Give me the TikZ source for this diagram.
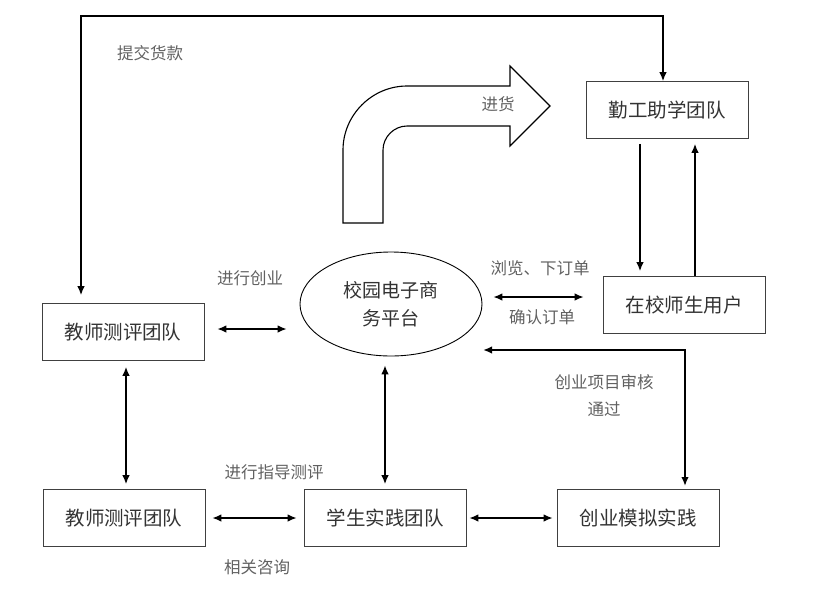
\documentclass[tikz,border=0pt]{standalone}
\usepackage{fontspec}
\newfontfamily\cjk{Noto Sans CJK SC}
\usetikzlibrary{arrows.meta,shapes.geometric}

\tikzset{
    box/.style={draw=black!75, line width=0.9pt, minimum width=162pt, minimum height=57pt,
        inner sep=0pt, text=black!80, font=\cjk\fontsize{19.5}{24}\selectfont},
    tag/.style={text=black!62, inner sep=0pt, align=center, font=\cjk\fontsize{16.5}{27}\selectfont},
    link/.style={line width=1.2pt}
}

\begin{document}
\begin{tikzpicture}[x=1pt, y=-1pt, >={Latex[length=9pt,width=7.5pt]}]
        \useasboundingbox (0,0) rectangle (823,590);

        % Boxes
        \node[box] (qgzx) at (667,110) {勤工助学团队};
        \node[box] (user) at (684,305) {在校师生用户};
        \node[box] (teachA) at (123,332) {教师测评团队};
        \node[box] (teachB) at (124,518) {教师测评团队};
        \node[box] (student) at (385,518) {学生实践团队};
        \node[box] (sim) at (638,518) {创业模拟实践};
        \node[ellipse, draw=black, line width=0.9pt, minimum width=182pt, minimum height=104pt,
            inner sep=0pt, align=center, text=black!80, font=\cjk\fontsize{19}{28}\selectfont]
            (platform) at (391,304) {校园电子商\\务平台};

        % Bent arrow
        \draw[line width=1.1pt] (343,223) -- (343,150) .. controls (343,115) and (372,86) .. (407,86)
            -- (510,86) -- (510,66) -- (550,106) -- (510,146) -- (510,126) -- (407,126)
            .. controls (394,126) and (383,137) .. (383,150) -- (383,223) -- cycle;

        % Arrows
        \coordinate (topL) at (81,16);
        \coordinate (topR) at (663,16);
        \coordinate (colA) at (126,0);
        \draw[link, <->, shorten <=8pt] (teachA.north -| topL) |- (topR) -- (qgzx.north -| topR);
        \draw[link, line width=2pt] (topL) -- (topR);
        \draw[link, ->] ([xshift=-27pt,yshift=-5pt]qgzx.south) -- ([xshift=-44pt,yshift=5pt]user.north);
        \draw[link, ->] ([xshift=11pt]user.north) -- ([xshift=28pt,yshift=-5pt]qgzx.south);
        \draw[link, <->] ([xshift=13pt,yshift=3pt]teachA.east) -- ([xshift=-13pt,yshift=-25pt]platform.west);
        \draw[link, <->] ([xshift=11pt,yshift=7pt]platform.east) -- ([xshift=-19pt,yshift=8pt]user.west);
        \draw[line width=2pt, <->] ([xshift=92pt,yshift=-46pt]platform.center) -| ([xshift=47pt,yshift=3pt]sim.north);
        \draw[link, <->, shorten <=6pt, shorten >=5pt] (teachA.south -| colA) -- (teachB.north -| colA);
        \draw[link, <->, shorten <=9pt, shorten >=5pt] (student.north |- platform.south) -- (student.north);
        \draw[link, <->] ([xshift=7pt]teachB.east) -- ([xshift=-7pt]student.west);
        \draw[link, <->] ([xshift=3pt]student.east) -- ([xshift=-4pt]sim.west);

        % Labels
        \node[tag] (payLbl) at (150,53) {提交货款};
        \node[tag] (stockLbl) at (498,104) {进货};
        \node[tag] (startLbl) at (250,278) {进行创业};
        \node[tag] (orderLbl) at (540,268) {浏览、下订单};
        \node[tag] (confirmLbl) at (542,317) {确认订单};
        \node[tag] (auditLbl) at (604,396) {创业项目审核\\通过};
        \node[tag] (guideLbl) at (274,472) {进行指导测评};
        \node[tag] (askLbl) at (257,567) {相关咨询};

        \end{tikzpicture}
\end{document}
